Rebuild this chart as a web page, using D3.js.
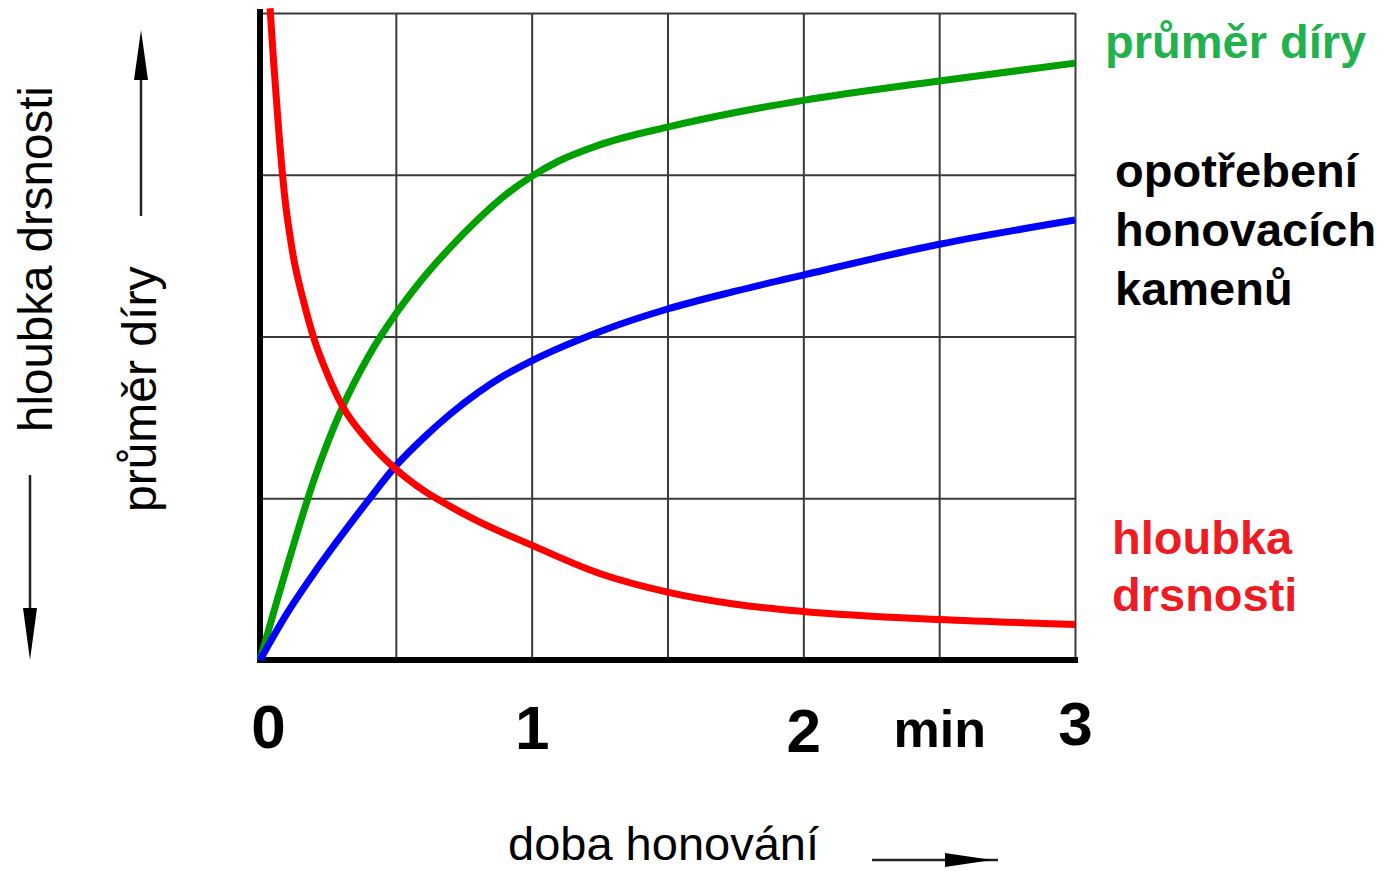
<!DOCTYPE html>
<html>
<head>
<meta charset="utf-8">
<script src="https://cdn.jsdelivr.net/npm/d3@7/dist/d3.min.js"></script>
<style>
  html, body { margin: 0; padding: 0; background: #fff; }
  svg { display: block; }
  text { font-family: "Liberation Sans", Arial, sans-serif; }
</style>
</head>
<body>
<svg id="chart" width="1386" height="871"></svg>
<script>
// ---- data (time in min, values in grid units 0..4) ----
const greenTime   = [0, 0.1, 0.2, 0.3, 0.4, 0.5, 0.6, 0.7, 0.8, 0.9, 1.0, 1.1, 1.25, 1.5, 1.75, 2.0, 2.5, 3.0];
const greenValues = [0, 0.58, 1.12, 1.55, 1.88, 2.14, 2.36, 2.55, 2.72, 2.87, 2.99, 3.085, 3.185, 3.295, 3.385, 3.46, 3.58, 3.69];

const blueTime   = [0, 0.1, 0.2, 0.3, 0.4, 0.5, 0.6, 0.7, 0.8, 0.9, 1.0, 1.25, 1.5, 1.75, 2.0, 2.5, 3.0];
const blueValues = [0, 0.29, 0.54, 0.77, 0.99, 1.2, 1.37, 1.52, 1.65, 1.76, 1.85, 2.03, 2.17, 2.28, 2.38, 2.57, 2.72];

const redTime   = [0.037, 0.05, 0.07, 0.09, 0.12, 0.16, 0.2, 0.25, 0.3, 0.4, 0.5, 0.6, 0.7, 0.8, 1.0, 1.25, 1.5, 1.75, 2.0, 2.5, 3.0];
const redValues = [4.03, 3.70, 3.25, 2.88, 2.52, 2.22, 1.98, 1.76, 1.58, 1.35, 1.18, 1.05, 0.95, 0.86, 0.71, 0.535, 0.42, 0.345, 0.30, 0.25, 0.22];

const xGridValues = [0.5, 1, 1.5, 2, 2.5, 3];
const yGridValues = [1, 2, 3, 4];
const xTickValues = [0, 1, 2, 2.5, 3];
const xTickLabels = ["0", "1", "2", "min", "3"];

const labelDiameter = "průměr díry";
const labelWear = ["opotřebení", "honovacích", "kamenů"];
const labelRough = ["hloubka", "drsnosti"];
const axisLabelX = "doba honování";
const axisLabelRough = "hloubka drsnosti";
const axisLabelDiameter = "průměr díry";

// ---- drawing ----
const svg = d3.select("#chart");
const x = d3.scaleLinear().domain([0, 3]).range([260, 1075]);
const y = d3.scaleLinear().domain([0, 4]).range([660, 13]);

// grid
svg.append("g")
  .attr("transform", `translate(0,${y(0)})`)
  .call(d3.axisBottom(x).tickValues(xGridValues).tickSize(-(y(0) - y(4))).tickFormat(""))
  .call(g => g.select(".domain").remove())
  .call(g => g.selectAll(".tick line").attr("stroke", "#3a3a3a").attr("stroke-width", 2));

svg.append("g")
  .attr("transform", `translate(${x(0)},0)`)
  .call(d3.axisLeft(y).tickValues(yGridValues).tickSize(-(x(3) - x(0))).tickFormat(""))
  .call(g => g.select(".domain").remove())
  .call(g => g.selectAll(".tick line").attr("stroke", "#3a3a3a").attr("stroke-width", 2));

// thick axes
svg.append("line").attr("x1", x(0)).attr("x2", x(0)).attr("y1", 9).attr("y2", y(0) + 3)
  .attr("stroke", "#000").attr("stroke-width", 6);
svg.append("line").attr("x1", x(0) - 3).attr("x2", x(3) + 3).attr("y1", y(0)).attr("y2", y(0))
  .attr("stroke", "#000").attr("stroke-width", 6);

// curves
const line = d3.line().x(d => x(d[0])).y(d => y(d[1])).curve(d3.curveMonotoneX);
function series(t, v, color) {
  svg.append("path")
    .datum(t.map((tt, i) => [tt, v[i]]))
    .attr("d", line)
    .attr("fill", "none")
    .attr("stroke", color)
    .attr("stroke-width", 7)
    .attr("stroke-linejoin", "round")
    .attr("stroke-linecap", "butt");
}
series(greenTime, greenValues, "#00a000");
series(blueTime, blueValues, "#0000ff");
series(redTime, redValues, "#ff0000");

// x tick labels
const tickAxis = svg.append("g")
  .attr("transform", `translate(0,${y(0)})`)
  .call(d3.axisBottom(x).tickValues(xTickValues).tickSize(0)
    .tickFormat((d, i) => xTickLabels[i]));
tickAxis.select(".domain").remove();
tickAxis.selectAll(".tick text")
  .attr("fill", "#000")
  .attr("font-family", "Liberation Sans, Arial, sans-serif")
  .attr("font-weight", "bold")
  .attr("font-size", (d, i) => xTickLabels[i] === "min" ? 52 : 62)
  .attr("dy", null)
  .attr("y", (d, i) => [88, 89, 92, 87, 85][i])
  .attr("dx", (d, i) => i === 0 ? 8 : 0);

// right side labels
svg.append("text").attr("x", 1105).attr("y", 58)
  .attr("font-size", 47).attr("font-weight", "bold").attr("fill", "#22b14c")
  .text(labelDiameter);

const wear = svg.append("text").attr("font-size", 47).attr("font-weight", "bold").attr("fill", "#000");
labelWear.forEach((s, i) => wear.append("tspan").attr("x", 1115).attr("y", 187 + i * 59).text(s));

const rough = svg.append("text").attr("font-size", 47).attr("font-weight", "bold").attr("fill", "#ed1c24");
labelRough.forEach((s, i) => rough.append("tspan").attr("x", 1112).attr("y", 554 + i * 57).text(s));

// axis titles
svg.append("text").attr("transform", "translate(52,432) rotate(-90)")
  .attr("font-size", 47.5).attr("fill", "#000").text(axisLabelRough);
svg.append("text").attr("transform", "translate(156,512) rotate(-90)")
  .attr("font-size", 48).attr("fill", "#000").text(axisLabelDiameter);
svg.append("text").attr("x", 508).attr("y", 860)
  .attr("font-size", 47).attr("fill", "#000").text(axisLabelX);

// arrows
function vArrow(xp, yFrom, yBase, yTip) {
  svg.append("line").attr("x1", xp).attr("x2", xp).attr("y1", yFrom).attr("y2", yBase)
    .attr("stroke", "#222").attr("stroke-width", 2.5);
  svg.append("path")
    .attr("d", d3.line()([[xp - 7, yBase], [xp + 7, yBase], [xp, yTip]]) + "Z")
    .attr("fill", "#000");
}
vArrow(30, 475, 608, 660);
vArrow(141, 216, 80, 30);

svg.append("line").attr("x1", 872).attr("x2", 998).attr("y1", 860).attr("y2", 860)
  .attr("stroke", "#222").attr("stroke-width", 2.5);
svg.append("path")
  .attr("d", d3.line()([[945, 853], [945, 867], [992, 860]]) + "Z")
  .attr("fill", "#000");
</script>
</body>
</html>
